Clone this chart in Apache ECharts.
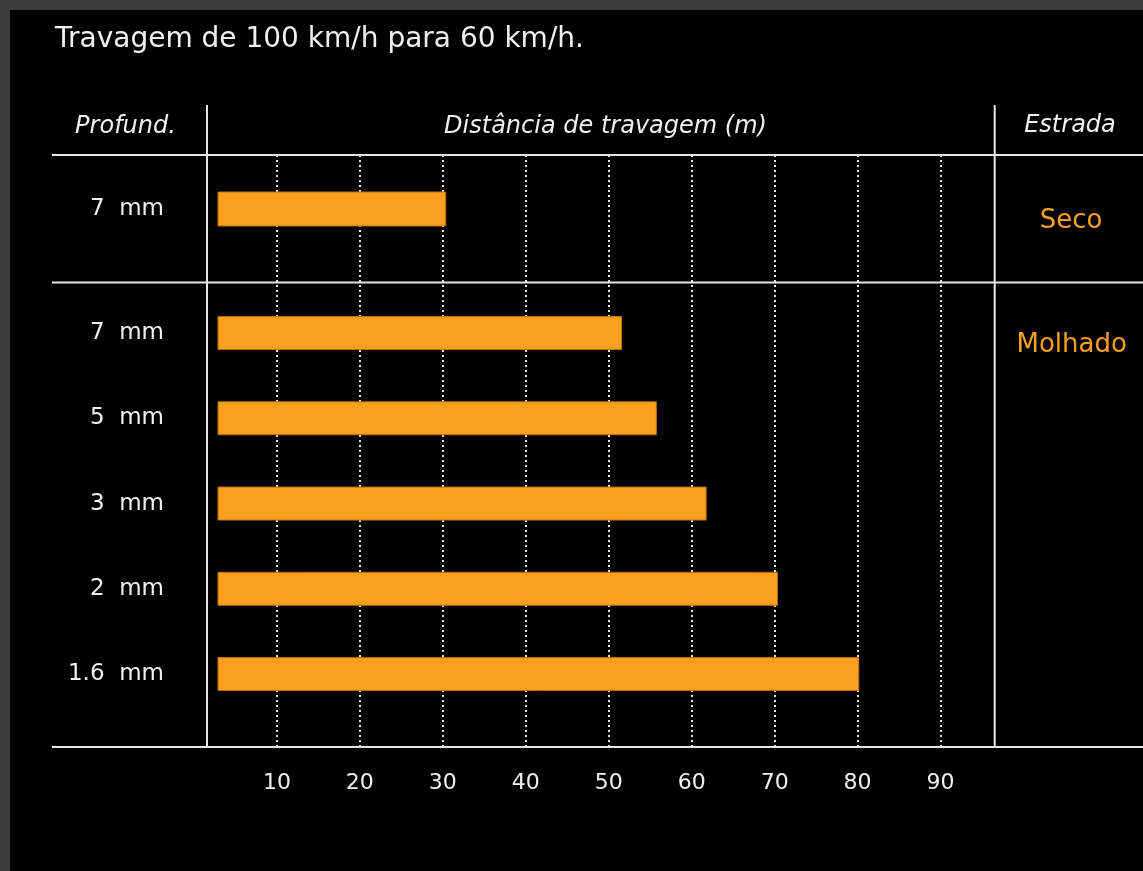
<!DOCTYPE html>
<html>
<head>
<meta charset="utf-8">
<script src="https://cdn.jsdelivr.net/npm/echarts@6/dist/echarts.min.js"></script>
<style>
  html, body { margin: 0; padding: 0; background: #3c3c3c; width: 1143px; height: 871px; overflow: hidden; }
  #chart { position: absolute; left: 10px; top: 10px; width: 1133px; height: 861px; background: #000; }
</style>
</head>
<body>
<div id="chart"></div>
<script>
// ---- data ----
const titleText = 'Travagem de 100 km/h para 60 km/h.';
const headerDepth = 'Profund.';
const headerDistance = 'Distância de travagem (m)';
const headerRoad = 'Estrada';
const roadDry = 'Seco';
const roadWet = 'Molhado';
const dryCategories = ['7  mm'];
const dryValues = [30.4];
const wetCategories = ['7  mm', '5  mm', '3  mm', '2  mm', '1.6  mm'];
const wetValues = [51.6, 55.8, 61.8, 70.4, 80.2];
const axisMin = 2.9;
const axisMax = 96.5;

// ---- styles ----
const FONT = 'DejaVu Sans';
const WHITE = '#f0f0f0';
const ORANGE = '#f9a11f';
const LINE = '#e6e6e6';

const chart = echarts.init(document.getElementById('chart'), null, { renderer: 'canvas' });

const gridLeft = 208, gridWidth = 776.5;
function hLine(y) {
  return { type: 'line', z: 100, shape: { x1: 42, y1: y, x2: 1133, y2: y }, style: { stroke: LINE, lineWidth: 2 } };
}
function vLine(x) {
  return { type: 'line', z: 100, shape: { x1: x, y1: 95, x2: x, y2: 737 }, style: { stroke: LINE, lineWidth: 2 } };
}
function txt(t, x, y, size, color, italic) {
  return { type: 'text', z: 100, x: x, y: y, style: {
    text: t, fill: color, font: (italic ? 'italic ' : '') + size + 'px "' + FONT + '"',
    textAlign: 'center', textVerticalAlign: 'middle' } };
}

const valueAxisBase = { type: 'value', min: axisMin, max: axisMax, splitNumber: 9 };

chart.setOption({
  backgroundColor: '#000',
  animation: false,
  title: {
    text: titleText, left: 45, top: 16, padding: 0,
    textStyle: { color: WHITE, fontFamily: FONT, fontSize: 28, fontWeight: 'normal' }
  },
  grid: [
    { left: gridLeft, top: 145, width: gridWidth, height: 592 },
    { left: gridLeft, top: 145, width: gridWidth, height: 108 },
    { left: gridLeft, top: 280.4, width: gridWidth, height: 426.3 }
  ],
  xAxis: [
    Object.assign({}, valueAxisBase, {
      gridIndex: 0,
      axisLine: { show: false },
      axisTick: { show: false },
      axisLabel: { color: WHITE, fontFamily: FONT, fontSize: 22, margin: 25, showMinLabel: false, showMaxLabel: false },
      splitLine: { show: true, showMinLine: false, showMaxLine: false, lineStyle: { color: LINE, width: 2, type: [2, 3] } }
    }),
    Object.assign({}, valueAxisBase, { gridIndex: 1, show: false, splitLine: { show: false } }),
    Object.assign({}, valueAxisBase, { gridIndex: 2, show: false, splitLine: { show: false } })
  ],
  yAxis: [
    { type: 'category', gridIndex: 0, data: [], show: false },
    { type: 'category', gridIndex: 1, data: dryCategories, inverse: true,
      axisLine: { show: false }, axisTick: { show: false }, splitLine: { show: false },
      axisLabel: { color: WHITE, fontFamily: FONT, fontSize: 23, margin: 54, align: 'right' } },
    { type: 'category', gridIndex: 2, data: wetCategories, inverse: true,
      axisLine: { show: false }, axisTick: { show: false }, splitLine: { show: false },
      axisLabel: { color: WHITE, fontFamily: FONT, fontSize: 23, margin: 54, align: 'right' } }
  ],
  series: [
    { type: 'bar', name: roadDry, xAxisIndex: 1, yAxisIndex: 1, data: dryValues, barWidth: 35, clip: true,
      itemStyle: { color: ORANGE, borderColor: '#b8700f', borderWidth: 1 } },
    { type: 'bar', name: roadWet, xAxisIndex: 2, yAxisIndex: 2, data: wetValues, barWidth: 34, clip: true,
      itemStyle: { color: ORANGE, borderColor: '#b8700f', borderWidth: 1 } }
  ],
  graphic: [
    hLine(145), hLine(272.5), hLine(737),
    vLine(197), vLine(984.7),
    txt(headerDepth, 115.5, 116.5, 24, WHITE, true),
    txt(headerDistance, 595.5, 116.5, 24, WHITE, true),
    txt(headerRoad, 1060, 116, 24, WHITE, true),
    txt(roadDry, 1061, 211, 26, ORANGE, false),
    txt(roadWet, 1061.7, 335, 26, ORANGE, false)
  ]
});
</script>
</body>
</html>
